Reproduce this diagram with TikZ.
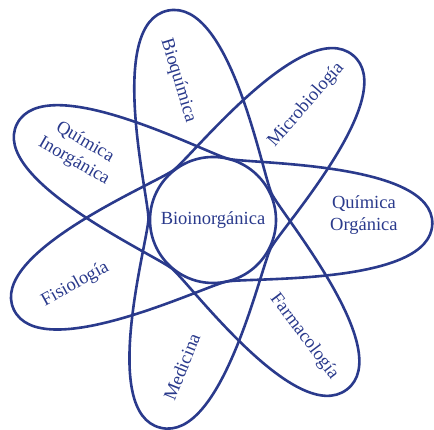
\documentclass[tikz,border=0pt]{standalone}
\usepackage{fontspec}
\setmainfont{Liberation Serif}
\usetikzlibrary{calc}
\definecolor{atomblue}{RGB}{42,58,140}

\begin{document}
\begin{tikzpicture}[
        x=1pt, y=1pt,
        font=\fontsize{18.5}{22}\selectfont,
        orbit/.style={draw=atomblue, line width=2.6pt, line cap=round},
        core/.style={circle, draw=atomblue, line width=2.6pt, minimum size=126pt, inner sep=0pt, text=atomblue},
        field/.style={text=atomblue, align=center, inner sep=1pt},
    ]
        \useasboundingbox (0,0) rectangle (434,430);
        \coordinate (ctr) at (213,210);

        % --- seven-pointed orbit ({7/3} star with rounded tips) ---
        \begin{scope}[shift={(ctr)}, xscale=1.025]
            \foreach \k in {0,...,6}
                \draw[orbit, rotate=-1+\k*360/7]
                    (0:214) .. controls +(90:62) and +(-12.86:22) .. (77.14:63)
                    .. controls +(167.14:22) and +(64.29:62) .. (154.29:214);
        \end{scope}

        % --- centre ---
        \node[core] (bioin) at (ctr) {Bioinorgánica};

        % --- fields, one per tip ---
        \node[field, rotate=0]   (qorg)   at ($(ctr)+(2:151)$)    {Química\\Orgánica};
        \node[field, rotate=49]  (micro)  at ($(ctr)+(51:148)$)   {Microbiología};
        \node[field, rotate=-73] (bioq)   at ($(ctr)+(104:144)$)  {Bioquímica};
        \node[field, rotate=-30] (qinorg) at ($(ctr)+(153:150)$)  {Química\\Inorgánica};
        \node[field, rotate=29]  (fisio)  at ($(ctr)+(-155:152)$) {Fisiología};
        \node[field, rotate=68]  (medic)  at ($(ctr)+(-102:150)$) {Medicina};
        \node[field, rotate=-53] (farma)  at ($(ctr)+(-52:148)$)  {Farmacología};
\end{tikzpicture}
\end{document}
